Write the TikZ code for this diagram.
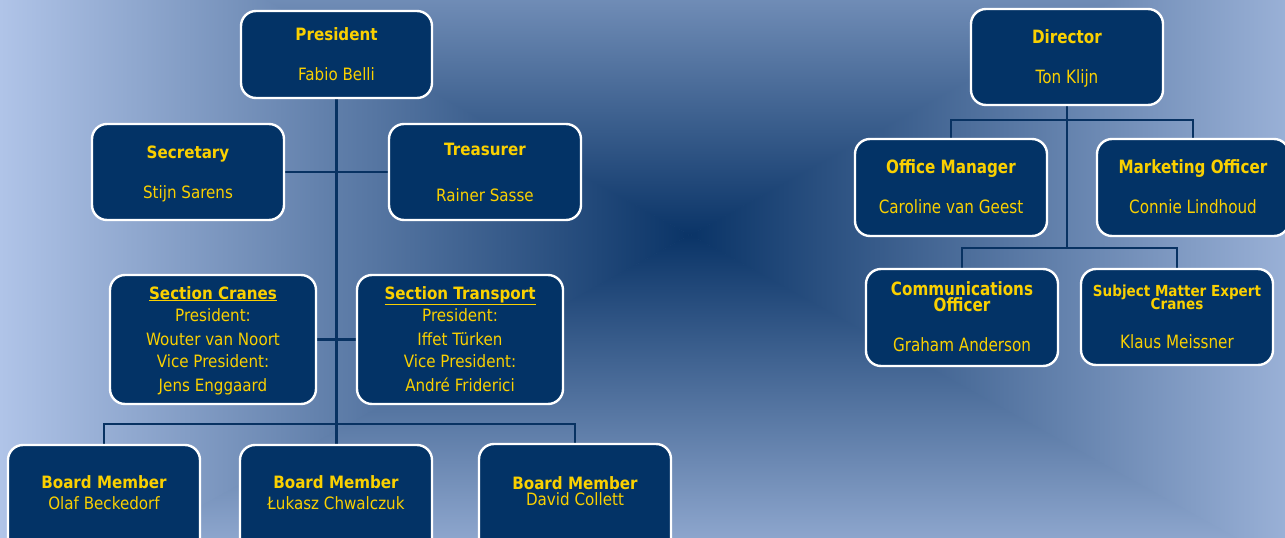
\documentclass[tikz,border=0pt]{standalone}
\usepackage{fontspec}
\setmainfont[FakeStretch=0.83]{DejaVu Sans}
\newfontfamily\lfont[FakeStretch=0.89]{DejaVu Sans}
\definecolor{edgec}{RGB}{176,196,232}
\definecolor{centc}{RGB}{10,52,103}
\definecolor{boxc}{RGB}{3,51,102}
\definecolor{linec}{RGB}{8,50,98}
\definecolor{ylw}{RGB}{250,208,0}
\pgfdeclarelayer{bg}
\pgfdeclarelayer{lines}
\pgfsetlayers{bg,lines,main}
\tikzset{
  box/.style={draw=white, fill=boxc, line width=2.4pt, rounded corners=15pt,
    minimum width=192pt, minimum height=96pt, outer sep=0pt, inner sep=0pt},
  conn/.style={draw=linec, line width=2.8pt},
  txt/.style={anchor=base, inner sep=0pt, outer sep=0pt, text=ylw},
  lreg/.style={txt, font=\lfont\fontsize{17}{19}\selectfont},
  lbold/.style={txt, font=\lfont\fontsize{17}{19}\selectfont\bfseries},
  rreg/.style={txt, font=\fontsize{18.3}{20}\selectfont},
  rbold/.style={txt, font=\fontsize{18.3}{20}\selectfont\bfseries},
  sbold/.style={txt, font=\lfont\fontsize{15.2}{17}\selectfont\bfseries},
}
\begin{document}
\begin{tikzpicture}[x=1pt,y=-1pt]
\useasboundingbox (0,0) rectangle (1285,538);
% background: rectangular gradient
\begin{pgfonlayer}{bg}
\clip (0,0) rectangle (1285,538);
\shade[left color=edgec, right color=centc] (0,-150) -- (0,620) -- (690,235) -- cycle;
\shade[left color=centc, right color=edgec] (1380,-150) -- (1380,620) -- (690,235) -- cycle;
\shade[top color=edgec, bottom color=centc] (-4,-150) -- (1384,-150) -- (690,235.5) -- cycle;
\shade[top color=centc, bottom color=edgec] (-4,620) -- (1384,620) -- (690,234.5) -- cycle;
\end{pgfonlayer}

% ---------- left chart ----------
\node[box, minimum width=191pt, minimum height=87pt] (pres) at (336.5,54.5) {};
\node[box] (sec) at (188,172) {};
\node[box] (tre) at (485,172) {};
\node[box, minimum width=206pt, minimum height=129pt] (scr) at (213,339.5) {};
\node[box, minimum width=206pt, minimum height=129pt] (str) at (460,339.5) {};
\node[box, minimum height=120pt] (b1) at (104,505) {};
\node[box, minimum height=120pt] (b2) at (336,505) {};
\node[box, minimum height=120pt] (b3) at (575,504) {};

\node[lbold] (presT) at (336.5,40) {President};
\node[lreg]  (presN) at (336.5,80) {Fabio Belli};
\node[lbold] (secT) at (188,158) {Secretary};
\node[lreg]  (secN) at (188,198) {Stijn Sarens};
\node[lbold] (treT) at (485,155) {Treasurer};
\node[lreg]  (treN) at (485,201) {Rainer Sasse};

\node[lbold] (scrT) at (213,299) {\underline{Section Cranes}};
\node[lreg]  (scr1) at (213,321) {President:};
\node[lreg]  (scr2) at (213,345) {Wouter van Noort};
\node[lreg]  (scr3) at (213,367) {Vice President:};
\node[lreg]  (scr4) at (213,391) {Jens Enggaard};

\node[lbold] (strT) at (460,299) {\underline{Section Transport}};
\node[lreg]  (str1) at (460,321) {President:};
\node[lreg]  (str2) at (460,345) {Iffet Türken};
\node[lreg]  (str3) at (460,367) {Vice President:};
\node[lreg]  (str4) at (460,391) {André Friderici};

\node[lbold] (b1T) at (104,488) {Board Member};
\node[lreg]  (b1N) at (104,509) {Olaf Beckedorf};
\node[lbold] (b2T) at (336,488) {Board Member};
\node[lreg]  (b2N) at (336,509) {Łukasz Chwalczuk};
\node[lbold] (b3T) at (575,489) {Board Member};
\node[lreg]  (b3N) at (575,505) {David Collett};

% ---------- right chart ----------
\node[box] (dir) at (1067,57) {};
\node[box, minimum height=97pt] (om) at (951,187.5) {};
\node[box, minimum height=97pt] (mo) at (1193,187.5) {};
\node[box, minimum height=97pt] (co) at (962,317.5) {};
\node[box] (sme) at (1177,317) {};
\coordinate (rbus) at (1067,248);

\node[rbold] (dirT) at (1067,43) {Director};
\node[rreg]  (dirN) at (1067,83) {Ton Klijn};
\node[rbold] (omT) at (951,173) {Office Manager};
\node[rreg]  (omN) at (951,213) {Caroline van Geest};
\node[rbold] (moT) at (1193,173) {Marketing Officer};
\node[rreg]  (moN) at (1193,213) {Connie Lindhoud};
\node[rbold] (coT1) at (962,295) {Communications};
\node[rbold] (coT2) at (962,311) {Officer};
\node[rreg]  (coN) at (962,351) {Graham Anderson};
\node[sbold] (smeT1) at (1177,296) {Subject Matter Expert};
\node[sbold] (smeT2) at (1177,309) {Cranes};
\node[rreg]  (smeN) at (1177,348) {Klaus Meissner};

% ---------- connectors ----------
\begin{pgfonlayer}{lines}
\draw[conn] (pres.south) -- (pres.south |- b2.north);
\draw[conn] (sec.east) -- (tre.west);
\draw[conn] (scr.east) -- (str.west);
\draw[conn] (b1.north) -- ++(0,-21) -| (b3.north);
\draw[conn] (dir.south) -- (rbus);
\draw[conn] (om.north) -- ++(0,-19) -| (mo.north);
\draw[conn] (co.north) -- ++(0,-21) -| (sme.north);
\end{pgfonlayer}
\end{tikzpicture}
\end{document}
